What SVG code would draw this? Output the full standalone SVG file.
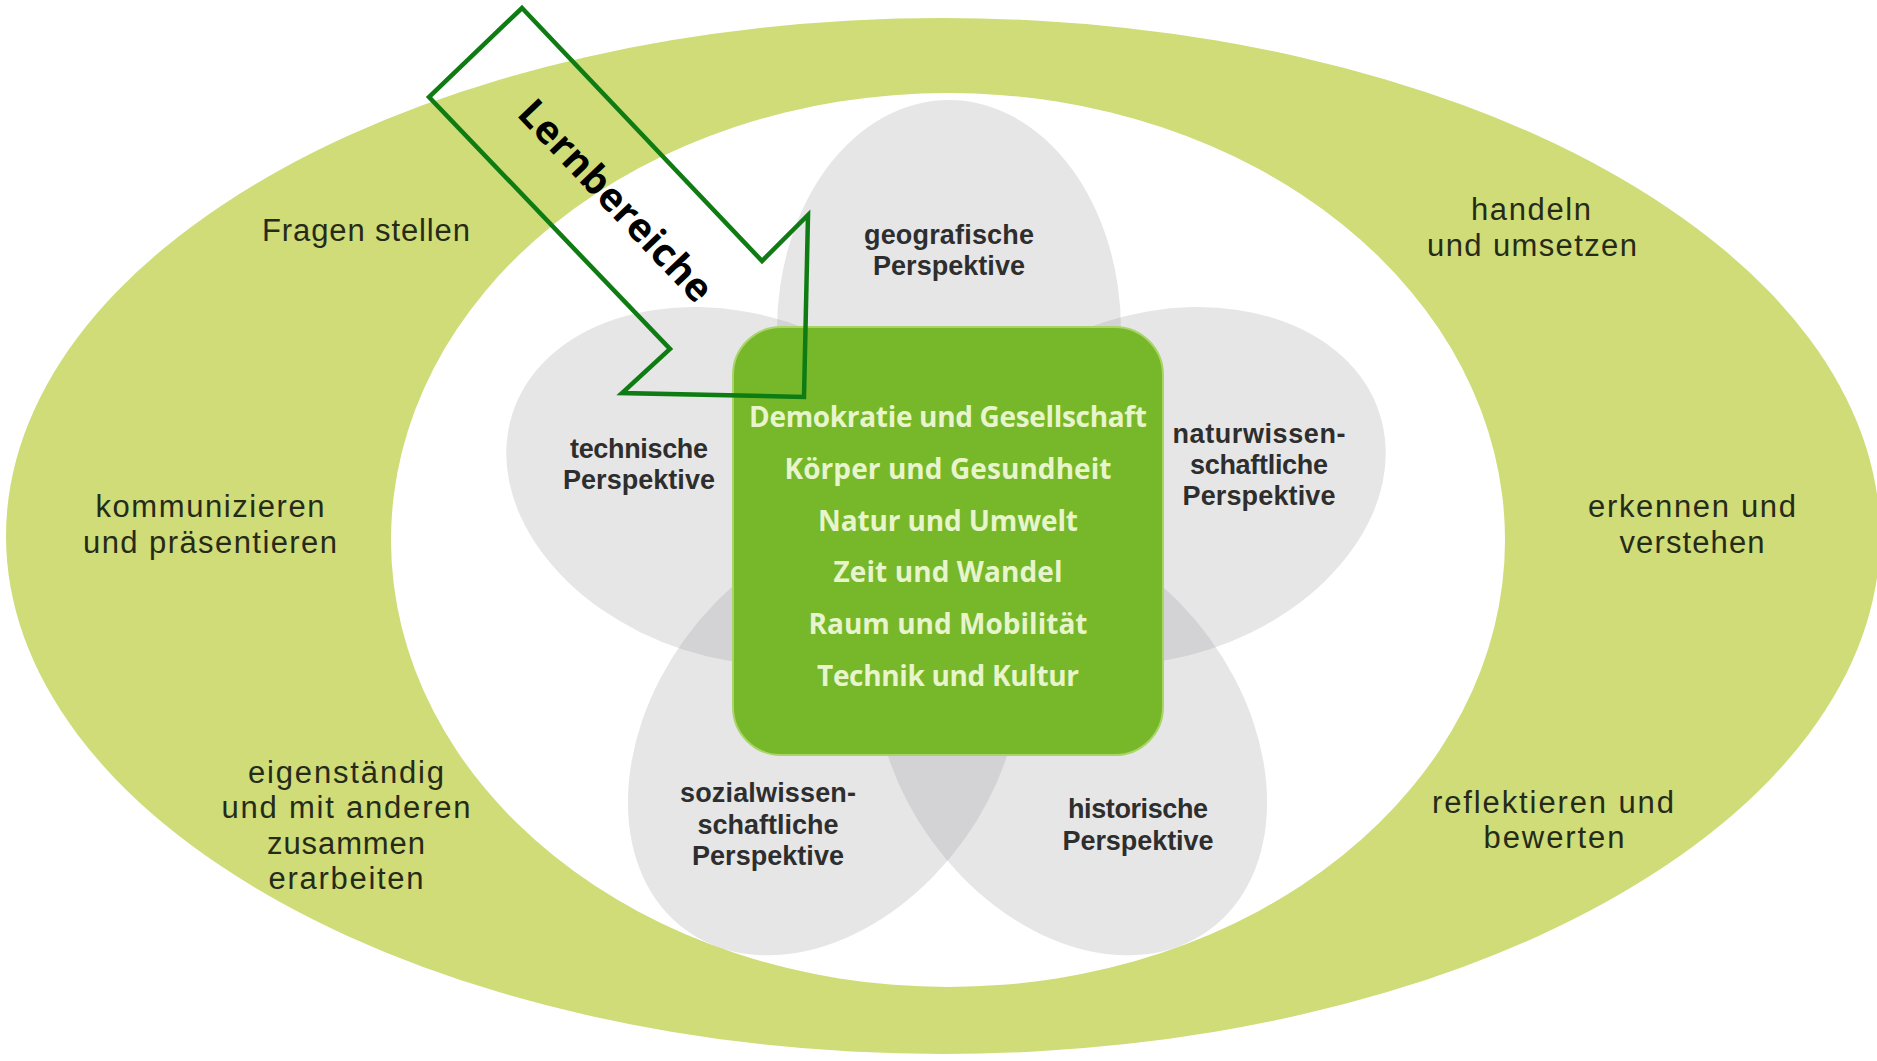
<svg xmlns="http://www.w3.org/2000/svg" width="1877" height="1061" viewBox="0 0 1877 1061">
  <style>
    .ringlbl{font-family:"Liberation Sans",Arial,sans-serif;font-size:31px;fill:#262b18;text-anchor:middle}
    .petlbl{font-family:"Liberation Sans",Arial,sans-serif;font-size:27px;font-weight:700;fill:#2e2e2e;text-anchor:middle}
    .arealbl{font-family:"Open Sans","Liberation Sans",sans-serif;font-size:28px;font-weight:700;fill:#e8f5cc;text-anchor:middle}
    .petal{fill:#9a9aa0;fill-opacity:0.25}
    .arrowtxt{font-family:"Open Sans","Liberation Sans",sans-serif;font-size:39px;font-weight:700;fill:#000;text-anchor:middle}
  </style>
  <rect x="0" y="0" width="1877" height="1061" fill="#ffffff"/>

  <g id="ring">
    <ellipse cx="943" cy="536" rx="937" ry="518" fill="#cfdc78"/>
    <ellipse cx="948" cy="540" rx="557" ry="447" fill="#ffffff"/>
  </g>

  <g id="ring-labels">
    <g id="fragen-stellen"><text class="ringlbl" x="366" y="241" textLength="208">Fragen stellen</text></g>
    <g id="kommunizieren">
      <text class="ringlbl"><tspan x="210" y="517" textLength="229">kommunizieren</tspan><tspan x="210" y="553" textLength="254">und präsentieren</tspan></text>
    </g>
    <g id="eigenstaendig">
      <text class="ringlbl"><tspan x="346" y="783" textLength="196">eigenständig</tspan><tspan x="346" y="818" textLength="249">und mit anderen</tspan><tspan x="346" y="854" textLength="158">zusammen</tspan><tspan x="346" y="889" textLength="155">erarbeiten</tspan></text>
    </g>
    <g id="handeln">
      <text class="ringlbl"><tspan x="1531" y="220" textLength="120">handeln</tspan><tspan x="1532" y="256" textLength="210">und umsetzen</tspan></text>
    </g>
    <g id="erkennen">
      <text class="ringlbl"><tspan x="1692" y="517" textLength="208">erkennen und</tspan><tspan x="1692" y="553" textLength="145">verstehen</tspan></text>
    </g>
    <g id="reflektieren">
      <text class="ringlbl"><tspan x="1553" y="813" textLength="242">reflektieren und</tspan><tspan x="1554" y="848" textLength="141">bewerten</tspan></text>
    </g>
  </g>

  <g id="petals">
    <g id="petal-geografisch">
      <ellipse class="petal" cx="949" cy="330" rx="172" ry="230"/>
      <text class="petlbl"><tspan x="949" y="244" textLength="170">geografische</tspan><tspan x="949" y="275" textLength="152">Perspektive</tspan></text>
    </g>
    <g id="petal-technisch">
      <ellipse class="petal" cx="736" cy="486" rx="235" ry="172" transform="rotate(18 736 486)"/>
      <text class="petlbl"><tspan x="639" y="458" textLength="138">technische</tspan><tspan x="639" y="489" textLength="152">Perspektive</tspan></text>
    </g>
    <g id="petal-naturwissenschaftlich">
      <ellipse class="petal" cx="1156" cy="486" rx="235" ry="172" transform="rotate(-18 1156 486)"/>
      <text class="petlbl"><tspan x="1259" y="443" textLength="173">naturwissen-</tspan><tspan x="1259" y="474" textLength="138">schaftliche</tspan><tspan x="1259" y="505" textLength="153">Perspektive</tspan></text>
    </g>
    <g id="petal-sozialwissenschaftlich">
      <ellipse class="petal" cx="824" cy="740" rx="172" ry="235" transform="rotate(36 824 740)"/>
      <text class="petlbl"><tspan x="768" y="802" textLength="176">sozialwissen-</tspan><tspan x="768" y="834" textLength="141">schaftliche</tspan><tspan x="768" y="865" textLength="152">Perspektive</tspan></text>
    </g>
    <g id="petal-historisch">
      <ellipse class="petal" cx="1071" cy="740" rx="172" ry="235" transform="rotate(-36 1071 740)"/>
      <text class="petlbl"><tspan x="1138" y="818" textLength="140">historische</tspan><tspan x="1138" y="850" textLength="151">Perspektive</tspan></text>
    </g>
  </g>

  <g id="lernbereiche-box">
    <rect x="733" y="327" width="430" height="428" rx="48" ry="48" fill="#76b82a" stroke="#a9d468" stroke-width="2"/>
    <text class="arealbl"><tspan x="948" y="427" textLength="398">Demokratie und Gesellschaft</tspan><tspan x="948" y="479" textLength="327">Körper und Gesundheit</tspan><tspan x="948" y="531" textLength="260">Natur und Umwelt</tspan><tspan x="948" y="582" textLength="229">Zeit und Wandel</tspan><tspan x="948" y="634" textLength="279">Raum und Mobilität</tspan><tspan x="948" y="686" textLength="262">Technik und Kultur</tspan></text>
  </g>

  <g id="connectors">
    <g id="lernbereiche-arrow">
      <polygon points="522,8 762,261 808,215 804,397 622,393 670,349 429,97" fill="none" stroke="#0e7c12" stroke-width="4.5" stroke-linejoin="miter"/>
      <text class="arrowtxt" transform="translate(606 210) rotate(46.5)" x="0" y="0" textLength="262">Lernbereiche</text>
    </g>
  </g>
</svg>
